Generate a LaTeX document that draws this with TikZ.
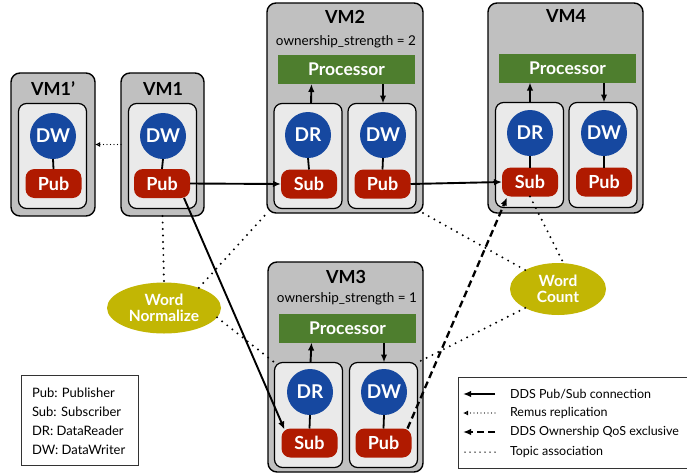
\documentclass[tikz,border=0pt]{standalone}
\usepackage{fontspec}
\setmainfont{Lato}
\usetikzlibrary{shapes,arrows.meta,calc}
\definecolor{vmgray}{RGB}{192,192,192}
\definecolor{slotgray}{RGB}{234,234,234}
\definecolor{ddsblue}{RGB}{22,72,160}
\definecolor{ddsred}{RGB}{176,26,0}
\definecolor{procgreen}{RGB}{78,126,46}
\definecolor{topicolive}{RGB}{194,182,4}
\newcommand{\fs}[1]{\fontsize{#1}{#1}\selectfont}

\begin{document}
\begin{tikzpicture}[auto, outer sep=0pt, x=1pt, y=-1pt, >={Latex[length=8pt,width=6.5pt]},
  vm/.style={draw=black, line width=1.4pt, fill=vmgray, rounded corners=9pt, inner sep=0pt},
  slot/.style={draw=black, line width=1.2pt, fill=slotgray, rounded corners=8pt, inner sep=0pt, minimum width=68pt, minimum height=105pt},
  ent/.style={circle, fill=ddsblue, inner sep=0pt, minimum size=46pt, text=white, font=\bfseries\fs{19}},
  port/.style={rectangle, rounded corners=9pt, fill=ddsred, inner sep=0pt, minimum width=56pt, minimum height=29pt, text=white, font=\bfseries\fs{18}},
  proc/.style={rectangle, fill=procgreen, inner sep=0pt, minimum width=137pt, minimum height=29pt, text=white, font=\bfseries\fs{17.5}},
  topic/.style={ellipse, fill=topicolive, inner sep=0pt, align=center, text=white, font=\bfseries\fs{15.5}},
  vmtitle/.style={font=\bfseries\fs{18}, inner sep=0pt},
  owner/.style={font=\fs{13.5}, inner sep=0pt},
  keytext/.style={font=\fs{12.5}, anchor=west, inner sep=0pt},
  stem/.style={line width=1.8pt},
  conn/.style={->, line width=1.9pt},
  repl/.style={-{Latex[length=5pt,width=5pt,open]}, line width=1.2pt, dash pattern=on 0pt off 3.5pt, line cap=round},
  own/.style={->, line width=2.3pt, dash pattern=on 7pt off 4pt},
  assoc/.style={line width=2.2pt, dash pattern=on 0pt off 6.5pt, line cap=round}]

\useasboundingbox (0,0) rectangle (687,474);

% virtual machines
\node[vm, minimum width=84pt, minimum height=143pt] at (53,144.5) (vm1p) {};
\node[vm, minimum width=83pt, minimum height=143pt] at (162.5,144.5) (vm1) {};
\node[vm, minimum width=156pt, minimum height=210pt] at (345,108) (vm2) {};
\node[vm, minimum width=155pt, minimum height=210pt] at (565.5,108) (vm4) {};
\node[vm, minimum width=155pt, minimum height=210pt] at (345.5,367) (vm3) {};

\node[vmtitle] at (53,89) (t1p) {VM1’};
\node[vmtitle] at (163,89) (t1) {VM1};
\node[vmtitle] at (345,17) (t2) {VM2};
\node[vmtitle] at (566,16) (t4) {VM4};
\node[vmtitle] at (346,277) (t3) {VM3};
\node[owner] at (346,42) (o2) {ownership\_strength = 2};
\node[owner] at (347,299) (o3) {ownership\_strength = 1};

% processors
\node[proc] at (346.5,69.5) (proc2) {Processor};
\node[proc] at (567.5,68) (proc4) {Processor};
\node[proc] at (347.5,328) (proc3) {Processor};

% slots
\node[slot] at (52.5,156) (s1p) {};
\node[slot] at (162.5,156) (s1) {};
\node[slot] at (308,156) (s2l) {};
\node[slot] at (382,156) (s2r) {};
\node[slot] at (529.5,155) (s4l) {};
\node[slot] at (603,155) (s4r) {};
\node[slot] at (308.5,415) (s3l) {};
\node[slot] at (383.5,415) (s3r) {};

% readers / writers
\node[ent] at (53,136) (dw1p) {DW};
\node[ent] at (163,136) (dw1) {DW};
\node[ent] at (308,135) (dr2) {DR};
\node[ent] at (383,135) (dw2) {DW};
\node[ent] at (530,133) (dr4) {DR};
\node[ent] at (604,133) (dw4) {DW};
\node[ent] at (310,392) (dr3) {DR};
\node[ent] at (384,392) (dw3) {DW};

\node[port] at (53.5,183.5) (pub1p) {Pub};
\node[port] at (162,183.5) (pub1) {Pub};
\node[port] at (309,184) (sub2) {Sub};
\node[port] at (382.5,184) (pub2) {Pub};
\node[port] at (530,182) (sub4) {Sub};
\node[port] at (604,182) (pub4) {Pub};
\node[port] at (309.5,443) (sub3) {Sub};
\node[port] at (383.5,443) (pub3) {Pub};

\draw[stem] (dw1p.south) -- (pub1p.north);
\draw[stem] (dw1.south) -- (pub1.north);
\draw[stem] (dr2.south) -- (sub2.north);
\draw[stem] (dw2.south) -- (pub2.north);
\draw[stem] (dr4.south) -- (sub4.north);
\draw[stem] (dw4.south) -- (pub4.north);
\draw[stem] (dr3.south) -- (sub3.north);
\draw[stem] (dw3.south) -- (pub3.north);

\draw[conn] ($(s2l.north)+(3,0)$) -- ($(proc2.south)+(-35,0)$);
\draw[conn] (proc2.south -| dw2) -- (s2r.north -| dw2);
\draw[conn] (s4l.north -| dr4) -- (proc4.south -| dr4);
\draw[conn] (proc4.south -| dw4) -- (s4r.north -| dw4);
\draw[conn] ($(s3l.north)+(2,0)$) -- ($(proc3.south)+(-36,0)$);
\draw[conn] (proc3.south -| dw3) -- (s3r.north -| dw3);

% topics
\node[topic, minimum width=114pt, minimum height=51pt] at (164,308) (wn) {Word\\[1pt]Normalize};
\node[topic, minimum width=96pt, minimum height=52pt] at (558,289) (wc) {Word\\[1pt]Count};

% connections
\draw[repl] (vm1.west) -- (vm1p.east);
\draw[conn] (pub1.east) -- (sub2.west);
\draw[conn] (pub2.east) -- (sub4.west);
\draw[conn] ($(pub1.south east)+(-6,0)$) -- ($(sub3.north west)+(3,1)$);
\draw[own] ($(pub3.north east)+(-4,0)$) -- ($(sub4.south west)+(5,1)$);

\draw[assoc] (vm1.south) -- (wn.north);
\draw[assoc] (wn.30) -- (vm2.south west);
\draw[assoc] (wn.-10) -- (s3l.north west);
\draw[assoc] (vm2.south east) -- (wc.150);
\draw[assoc] (wc.210) -- (s3r.north east);
\draw[assoc] (sub4.south) -- (wc.78);

% key, left
\node[draw=black!80, line width=0.8pt, anchor=north west, minimum width=117pt, minimum height=90pt, inner sep=0pt] at (21,375) (keyl) {};
\node[keytext, font=\fs{13}] at (32,393) (k1) {Pub: Publisher};
\node[keytext, font=\fs{13}] at (32,412) (k2) {Sub: Subscriber};
\node[keytext, font=\fs{13}] at (32,431) (k3) {DR: DataReader};
\node[keytext, font=\fs{13}] at (32,450) (k4) {DW: DataWriter};

% key, right
\node[draw=black!80, line width=0.8pt, anchor=north west, minimum width=240pt, minimum height=91pt, inner sep=0pt] at (458,377) (keyr) {};
\coordinate (ks1) at (495,394); \coordinate (ke1) at (463,394);
\coordinate (ks2) at (495,413); \coordinate (ke2) at (463,413);
\coordinate (ks3) at (495,432); \coordinate (ke3) at (463,432);
\coordinate (ks4) at (495,452); \coordinate (ke4) at (465,452);
\draw[conn] (ks1) -- (ke1);
\draw[repl] (ks2) -- (ke2);
\draw[own] (ks3) -- (ke3);
\draw[assoc, line width=1.5pt, dash pattern=on 0pt off 5pt] (ks4) -- (ke4);
\node[keytext] at (510,394) (r1) {DDS Pub/Sub connection};
\node[keytext] at (510,413) (r2) {Remus replication};
\node[keytext] at (510,432) (r3) {DDS Ownership QoS exclusive};
\node[keytext] at (510,452) (r4) {Topic association};
\end{tikzpicture}
\end{document}
